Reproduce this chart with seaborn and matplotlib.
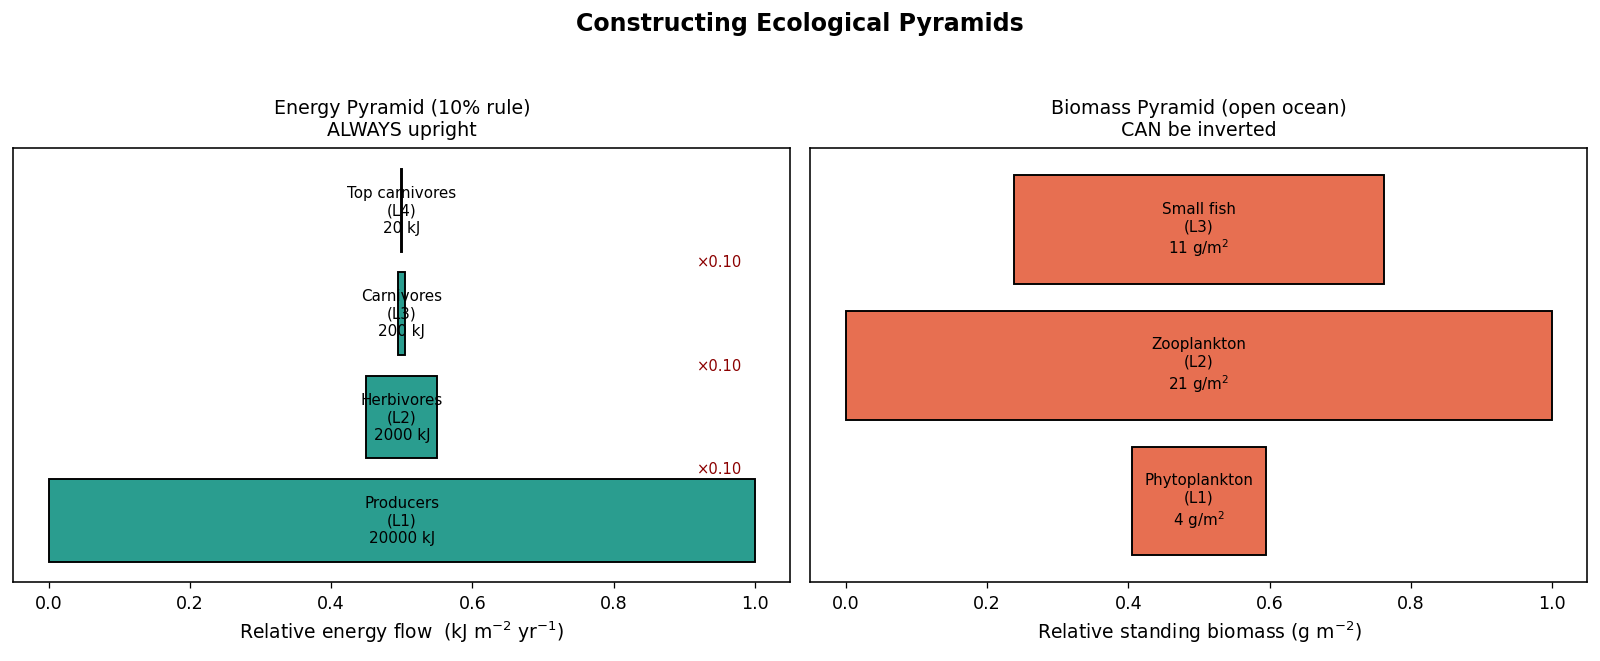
import numpy as np
import matplotlib
matplotlib.use("Agg")
import matplotlib.pyplot as plt
import seaborn as sns

# energy pyramid data
energy_names = ["Producers", "Herbivores", "Carnivores", "Top carnivores"]
energy_levels = ["L1", "L2", "L3", "L4"]
energy_kj = [20000, 2000, 200, 20]
transfer_labels = ["×0.10", "×0.10", "×0.10"]

# biomass pyramid data (open ocean)
biomass_names = ["Phytoplankton", "Zooplankton", "Small fish"]
biomass_levels = ["L1", "L2", "L3"]
biomass_g = [4, 21, 11]

sns.set_style("ticks")
plt.rcParams["font.family"] = ["DejaVu Sans"]
plt.rcParams.update({"text.color": "black", "axes.labelcolor": "black",
                     "xtick.color": "black", "ytick.color": "black",
                     "axes.labelsize": 11.8, "xtick.labelsize": 11,
                     "axes.titlesize": 12})

fig, axes = plt.subplots(1, 2, figsize=(14, 5.79), dpi=114.3)
fig.subplots_adjust(left=0.0083, right=0.992, top=0.775, bottom=0.1187, wspace=0.026)

teal = "#2a9d8f"
coral = "#e76f51"

# --- energy ---
ax = axes[0]
rel = np.array(energy_kj, dtype=float) / max(energy_kj)
ypos = np.arange(len(energy_kj))
ax.barh(ypos, rel, height=0.8, left=0.5 - rel / 2, color=teal,
        edgecolor="black", linewidth=1.2)
for y, name, lvl, val in zip(ypos, energy_names, energy_levels, energy_kj):
    ax.text(0.5, y, f"{name}\n({lvl})\n{val} kJ", ha="center", va="center",
            fontsize=9.5)
for i, lab in enumerate(transfer_labels):
    ax.text(0.95, i + 0.5, lab, ha="center", va="center", fontsize=9.3,
            color="darkred")
ax.set_xlim(-0.05, 1.05)
ax.set_ylim(-0.6, len(energy_kj) - 0.4)
ax.set_yticks([])
ax.set_xlabel(r"Relative energy flow  (kJ m$^{-2}$ yr$^{-1}$)")
ax.set_title("Energy Pyramid (10% rule)\nALWAYS upright", pad=8)

# --- biomass ---
ax = axes[1]
relb = np.array(biomass_g, dtype=float) / max(biomass_g)
yb = np.arange(len(biomass_g))
ax.barh(yb, relb, height=0.8, left=0.5 - relb / 2, color=coral,
        edgecolor="black", linewidth=1.2)
for y, name, lvl, val in zip(yb, biomass_names, biomass_levels, biomass_g):
    ax.text(0.5, y, f"{name}\n({lvl})\n{val} g/m$^2$", ha="center", va="center",
            fontsize=9.5)
ax.set_xlim(-0.05, 1.05)
ax.set_ylim(-0.6, len(biomass_g) - 0.4)
ax.set_yticks([])
ax.set_xlabel(r"Relative standing biomass (g m$^{-2}$)")
ax.set_title("Biomass Pyramid (open ocean)\nCAN be inverted", pad=8)

for a in axes:
    for s in a.spines.values():
        s.set_color("black")
        s.set_linewidth(1.0)
    a.tick_params(axis="x", colors="black", length=4)

fig.suptitle("Constructing Ecological Pyramids", fontsize=15, fontweight="bold",
             y=0.982)

fig.savefig("out.png", dpi=114.3)
